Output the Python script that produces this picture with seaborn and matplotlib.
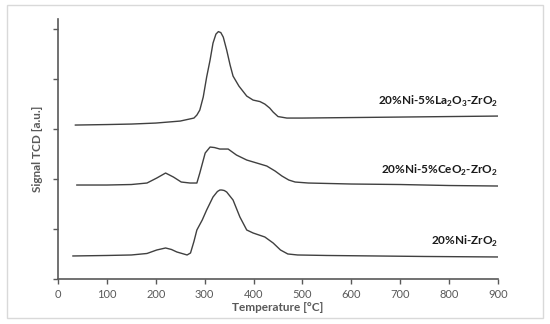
import matplotlib
matplotlib.use("Agg")
import matplotlib.pyplot as plt
import numpy as np
import pandas as pd
import seaborn as sns
from matplotlib.patches import Rectangle

# TPR profiles (temperature in C, stacked signal in a.u.)
t_ni = [30, 100, 150, 182, 202, 220, 232, 243, 264, 271, 278, 284, 295, 304, 317, 326,
        331, 335, 340, 345, 358, 372, 386, 399, 423, 440, 455, 470, 490, 550, 650,
        750, 900]
y_ni = [0.46, 0.47, 0.48, 0.51, 0.58, 0.62, 0.59, 0.54, 0.48, 0.52, 0.75, 0.98, 1.18,
        1.38, 1.64, 1.75, 1.78, 1.78, 1.77, 1.74, 1.58, 1.24, 0.98, 0.92, 0.84, 0.72,
        0.58, 0.50, 0.48, 0.47, 0.46, 0.45, 0.44]

t_ce = [38, 100, 150, 182, 202, 220, 236, 252, 270, 284, 290, 301, 311, 320, 331, 348,
        365, 386, 410, 427, 444, 458, 472, 485, 512, 600, 700, 800, 900]
y_ce = [1.88, 1.88, 1.89, 1.92, 2.02, 2.12, 2.04, 1.94, 1.92, 1.92, 2.12, 2.52, 2.64,
        2.63, 2.60, 2.60, 2.48, 2.38, 2.31, 2.26, 2.16, 2.06, 1.98, 1.94, 1.92, 1.90,
        1.89, 1.87, 1.86]

t_la = [35, 100, 150, 200, 250, 278, 284, 290, 297, 304, 311, 317, 323, 328, 333,
        338, 345, 352, 358, 370, 386, 399, 413, 423, 433, 440, 450, 468, 500, 600,
        700, 800, 900]
y_la = [3.08, 3.09, 3.10, 3.12, 3.16, 3.22, 3.28, 3.38, 3.64, 4.04, 4.38, 4.72, 4.90,
        4.95, 4.93, 4.84, 4.58, 4.28, 4.06, 3.86, 3.66, 3.58, 3.55, 3.50, 3.42, 3.34,
        3.25, 3.22, 3.22, 3.23, 3.24, 3.25, 3.26]

samples = ["20%Ni-ZrO2", "20%Ni-5%CeO2-ZrO2", "20%Ni-5%La2O3-ZrO2"]
labels = [r"20%Ni-ZrO$_\mathbf{2}$",
          r"20%Ni-5%CeO$_\mathbf{2}$-ZrO$_\mathbf{2}$",
          r"20%Ni-5%La$_\mathbf{2}$O$_\mathbf{3}$-ZrO$_\mathbf{2}$"]
label_y = [0.76, 2.18, 3.56]
x_ticks = [0, 100, 200, 300, 400, 500, 600, 700, 800, 900]

sns.set_style("white")
plt.rcParams["font.family"] = ["Lato", "DejaVu Sans"]
plt.rcParams["mathtext.fontset"] = "custom"
plt.rcParams["mathtext.bf"] = "Lato:bold"
plt.rcParams["mathtext.rm"] = "Lato"

df = pd.concat([
    pd.DataFrame({"T": t_ni, "signal": y_ni, "sample": samples[0]}),
    pd.DataFrame({"T": t_ce, "signal": y_ce, "sample": samples[1]}),
    pd.DataFrame({"T": t_la, "signal": y_la, "sample": samples[2]}),
], ignore_index=True)

line_col = "#404040"
fig = plt.figure(figsize=(5.5, 3.24), dpi=100)
fig.patches.append(Rectangle((0.013, 0.02), 0.975, 0.965, transform=fig.transFigure,
                             fill=False, edgecolor="#d9d9d9", linewidth=1))
ax = fig.add_axes([0.1055, 0.139, 0.8, 0.802])

sns.lineplot(data=df, x="T", y="signal", hue="sample",
             palette=[line_col] * 3, estimator=None, sort=False,
             legend=False, linewidth=1.0, ax=ax)

for lab, ly in zip(labels, label_y):
    ax.text(900, ly, lab, ha="right", va="center", fontsize=8.5,
            fontweight="bold", color="#1a1a1a")

ax.set_xlim(0, 900)
ax.set_ylim(0, 5.2)
ax.set_xticks(x_ticks)
ax.set_yticks([0, 1, 2, 3, 4, 5])
ax.set_yticklabels([])
ax.tick_params(axis="both", direction="out", length=3.5, width=1,
               left=True, bottom=True,
               color="#595959", labelsize=8, labelcolor="#595959")
for side in ["top", "right"]:
    ax.spines[side].set_visible(False)
for side in ["left", "bottom"]:
    ax.spines[side].set_color("#595959")
    ax.spines[side].set_linewidth(1.2)

ax.set_xlabel("Temperature [°C]", fontsize=8.5, fontweight="bold", color="#595959",
              labelpad=2)
ax.set_ylabel("Signal TCD [a.u.]", fontsize=8.5, fontweight="bold", color="#595959",
              labelpad=4)

fig.savefig("out.png", dpi=100)
plt.close(fig)
